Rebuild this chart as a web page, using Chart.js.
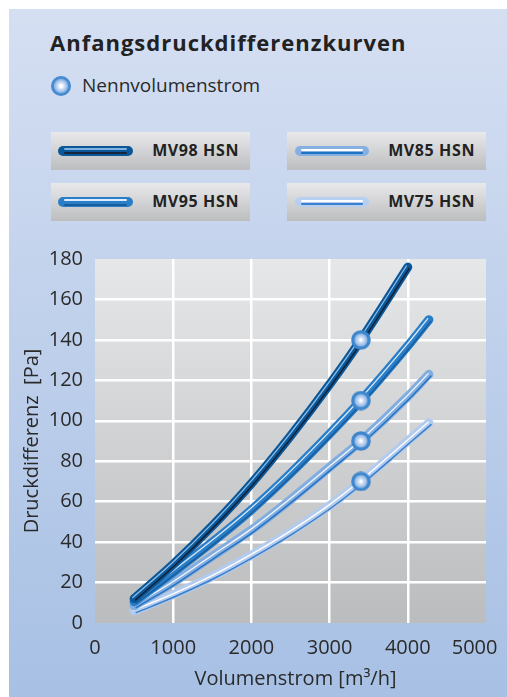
<!DOCTYPE html>
<html lang="de">
<head>
<meta charset="utf-8">
<title>Anfangsdruckdifferenzkurven</title>
<script src="https://cdn.jsdelivr.net/npm/chart.js@4.4.0/dist/chart.umd.min.js"></script>
<style>
  html, body { margin: 0; padding: 0; background: #fff; }
  #seite { position: relative; width: 507px; height: 697px; overflow: hidden; font-family: "Open Sans", sans-serif; color: #222; }
  #panel { position: absolute; left: 9px; top: 9px; right: 0; bottom: 0; background: linear-gradient(#d5dff2, #a7c0e4); }
  #titel { position: absolute; left: 50px; top: 27px; font-weight: 700; font-size: 22px; letter-spacing: 1px; white-space: nowrap; }
  #nenn { position: absolute; left: 51px; top: 72px; font-size: 19px; white-space: nowrap; color: #2a2a2a; }
  #nenn .punkt { position: absolute; left: 0; top: 4px; width: 20px; height: 20px; border-radius: 50%;
    background: radial-gradient(circle, #ffffff 0, #ffffff 1.5px, #dfeaf8 2.5px, #8fb6e5 6.5px, #4b8fd3 7.5px, #3f86cc 10px); }
  #nenn .text { position: absolute; left: 31px; top: 0; }
  .kasten { position: absolute; width: 199px; height: 38px; background: linear-gradient(#e9e9eb, #bcbdbf); }
  .kasten .rohr { position: absolute; left: 7px; top: 14px; width: 75px; height: 10px; border-radius: 5px; }
  .kasten .licht, .kasten .schatten { position: absolute; left: 6px; right: 6px; border-radius: 1px; }
  .kasten .licht { top: 2px; height: 1.5px; }
  .kasten .schatten { top: 6px; height: 2px; }
  .kasten .name { position: absolute; right: 11px; top: 7px; font-weight: 700; font-size: 16px; letter-spacing: 0.6px; color: #222; }
  #diagramm { position: absolute; left: 0; top: 0; }
</style>
</head>
<body>
<div id="seite">
  <div id="panel"></div>
  <div id="titel">Anfangsdruckdifferenzkurven</div>
  <div id="nenn"><span class="punkt"></span><span class="text">Nennvolumenstrom</span></div>

  <div class="kasten" style="left:51px; top:132px;">
    <div class="rohr" style="background:#0b5797;"><div class="licht" style="background:#7eb2e2;"></div><div class="schatten" style="background:#16243c;"></div></div>
    <div class="name">MV98 HSN</div>
  </div>
  <div class="kasten" style="left:287px; top:132px;">
    <div class="rohr" style="left:8px; width:74px; background:#85b0e1;"><div class="licht" style="top:3px; background:#ffffff;"></div><div class="schatten" style="background:#1f73c4;"></div></div>
    <div class="name">MV85 HSN</div>
  </div>
  <div class="kasten" style="left:51px; top:183px;">
    <div class="rohr" style="background:#2a7ec8;"><div class="licht" style="background:#dcecfb;"></div><div class="schatten" style="top:7px; height:1.5px; background:#185c9c;"></div></div>
    <div class="name">MV95 HSN</div>
  </div>
  <div class="kasten" style="left:287px; top:183px;">
    <div class="rohr" style="left:8px; width:74px; background:#b7cff0;"><div class="licht" style="top:3px; background:#ffffff;"></div><div class="schatten" style="background:#3a80cc;"></div></div>
    <div class="name">MV75 HSN</div>
  </div>

  <canvas id="diagramm" width="507" height="697"></canvas>
</div>

<script>
const volumenstrom = [500, 1000, 1500, 2000, 2500, 3000, 3400, 4000, 4270];
const mv98 = [12, 29, 48, 69, 92.5, 118, 140, 176];
const mv95 = [10.5, 25, 40, 56, 74, 93.5, 110, 137, 150];
const mv85 = [8.5, 20, 33, 46, 61, 77, 90, 112, 123];
const mv75 = [6, 14, 23, 33.5, 45, 58, 70, 90, 99];

// Nennvolumenstrom-Punkte
const nennX = [3400, 3400, 3400, 3400];
const nennY = [140, 110, 90, 70];

const xTicks = [0, 1000, 2000, 3000, 4000, 5000];
const yTicks = [0, 20, 40, 60, 80, 100, 120, 140, 160, 180];

const textFarbe = "#2a2a2a";

function punkte(xs, ys) {
  return ys.map((y, i) => ({ x: xs[i], y: y }));
}

// Rohr-Optik: Grundlinie + Lichtkante + Schattenkante
const serien = [
  { label: "MV98 HSN", werte: mv98, basis: "#0b5797", licht: "#8cbfec", schatten: "#13223a", lichtV: [-1.4, -1.1], schattenV: [1.5, 1.2] },
  { label: "MV95 HSN", werte: mv95, basis: "#2a7ec8", licht: "#d6e8fa", schatten: "#175d9f", lichtV: [-1.2, -1], schattenV: [2, 1.7] },
  { label: "MV85 HSN", werte: mv85, basis: "#82ade0", licht: "#f4f8fe", schatten: "#2474c3", lichtV: [-0.7, -0.6], schattenV: [2.1, 1.8] },
  { label: "MV75 HSN", werte: mv75, basis: "#b2cbee", licht: "#ffffff", schatten: "#3a7fcb", lichtV: [-0.7, -0.6], schattenV: [2.1, 1.8] }
];

const datasets = [];
serien.forEach((s, i) => {
  const daten = punkte(volumenstrom, s.werte);
  const gemeinsam = { data: daten, pointRadius: 0, fill: false, cubicInterpolationMode: "monotone", borderCapStyle: "round", borderJoinStyle: "round" };
  datasets.push(Object.assign({}, gemeinsam, { label: s.label, borderColor: s.basis, borderWidth: 9, order: 10 + i * 3 + 2 }));
  datasets.push(Object.assign({}, gemeinsam, { label: s.label + " schatten", borderColor: s.schatten, borderWidth: 1.5, order: 10 + i * 3 + 1, versatz: s.schattenV }));
  datasets.push(Object.assign({}, gemeinsam, { label: s.label + " licht", borderColor: s.licht, borderWidth: 1.3, order: 10 + i * 3, versatz: s.lichtV }));
});

// Marker als kleines Bild
function nennMarker() {
  const c = document.createElement("canvas");
  c.width = 20; c.height = 20;
  const g = c.getContext("2d");
  g.beginPath(); g.arc(10, 10, 9.8, 0, 2 * Math.PI); g.fillStyle = "#3f87cd"; g.fill();
  const rg = g.createRadialGradient(10, 10, 0.5, 10, 10, 6.8);
  rg.addColorStop(0, "#f4f8fd"); rg.addColorStop(0.35, "#cddff5"); rg.addColorStop(1, "#82ade1");
  g.beginPath(); g.arc(10, 10, 6.6, 0, 2 * Math.PI); g.fillStyle = rg; g.fill();
  g.beginPath(); g.arc(10, 10, 1.4, 0, 2 * Math.PI); g.fillStyle = "#ffffff"; g.fill();
  return c;
}

datasets.push({
  label: "Nennvolumenstrom",
  data: punkte(nennX, nennY),
  showLine: false,
  pointStyle: nennMarker(),
  pointRadius: 10,
  order: 0
});

const versatzPlugin = {
  id: "versatz",
  beforeDatasetDraw(chart, args) {
    const ds = chart.data.datasets[args.index];
    if (ds.versatz) {
      chart.ctx.save();
      chart.ctx.translate(ds.versatz[0], ds.versatz[1]);
    }
  },
  afterDatasetDraw(chart, args) {
    const ds = chart.data.datasets[args.index];
    if (ds.versatz) chart.ctx.restore();
  }
};

const flaechePlugin = {
  id: "flaeche",
  beforeDraw(chart) {
    const { ctx, chartArea: a } = chart;
    const g = ctx.createLinearGradient(0, a.top, 0, a.bottom);
    g.addColorStop(0, "#e6e7e9");
    g.addColorStop(1, "#bbbcbe");
    ctx.save();
    ctx.fillStyle = g;
    ctx.fillRect(a.left, a.top, a.right - a.left, a.bottom - a.top);
    ctx.restore();
  }
};

const schrift = { family: "'Open Sans', sans-serif", size: 20 };

new Chart(document.getElementById("diagramm"), {
  type: "line",
  data: { datasets: datasets },
  plugins: [flaechePlugin, versatzPlugin],
  options: {
    responsive: false,
    devicePixelRatio: 1,
    animation: false,
    layout: { padding: { top: 259, left: 0, right: 21, bottom: 0 } },
    plugins: { legend: { display: false }, tooltip: { enabled: false } },
    scales: {
      x: {
        type: "linear",
        min: 0,
        max: 5000,
        afterBuildTicks: s => { s.ticks = xTicks.map(v => ({ value: v })); },
        afterFit: s => { s.height = 74; s.paddingLeft = 0; s.paddingRight = 0; },
        grid: { color: c => (c.tick && (c.tick.value === 0 || c.tick.value === 5000)) ? "rgba(0,0,0,0)" : "#ffffff", lineWidth: 2.5, drawTicks: false },
        border: { display: false },
        ticks: { padding: 13, autoSkip: false, maxRotation: 0, font: schrift, color: textFarbe,
          callback: v => v === 5000 ? "5000\u2007\u2007" : String(v) },
        title: { display: true, text: "\u2002Volumenstrom [m³/h]", font: schrift, color: textFarbe, padding: { top: 0, bottom: 6 } }
      },
      y: {
        min: 0,
        max: 180,
        afterBuildTicks: s => { s.ticks = yTicks.map(v => ({ value: v })); },
        afterFit: s => { s.width = 95; s.paddingTop = 0; s.paddingBottom = 0; },
        grid: { color: c => (c.tick && (c.tick.value === 0 || c.tick.value === 180)) ? "rgba(0,0,0,0)" : "#ffffff", lineWidth: 2.5, drawTicks: false },
        border: { display: false },
        ticks: { padding: 12, autoSkip: false, font: schrift, color: textFarbe },
        title: { display: true, text: "Druckdifferenz  [Pa]", font: schrift, color: textFarbe, padding: { top: 20, bottom: 0 } }
      }
    }
  }
});
</script>
</body>
</html>
